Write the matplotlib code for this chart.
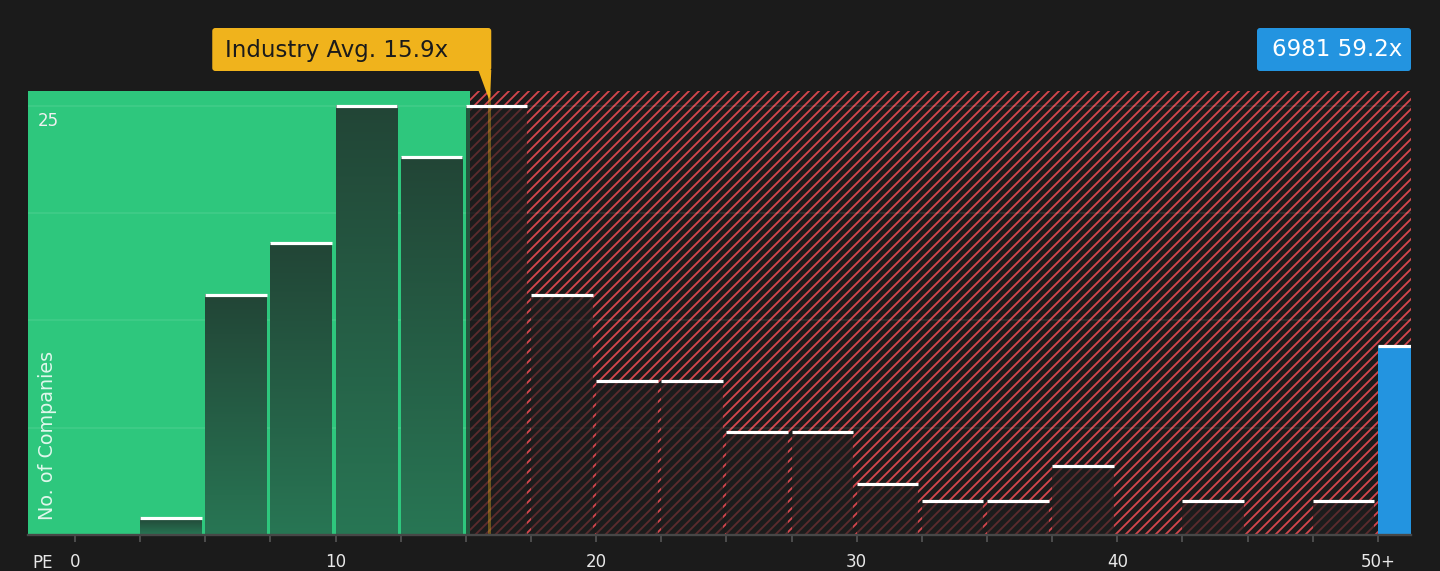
import matplotlib
matplotlib.use('Agg')
import matplotlib.pyplot as plt
import numpy as np
from matplotlib.patches import Rectangle, FancyBboxPatch, Polygon
from matplotlib.colors import LinearSegmentedColormap
import matplotlib.transforms as mtransforms

# ---------------- data ----------------
bin_left = [0, 2.5, 5, 7.5, 10, 12.5, 15, 17.5, 20, 22.5,
            25, 27.5, 30, 32.5, 35, 37.5, 40, 42.5, 45, 47.5]
counts = [0, 1, 14, 17, 25, 22, 25, 14, 9, 9,
          6, 6, 3, 2, 2, 4, 0, 2, 0, 2]
bin_width = 2.5
industry_avg = 15.9
company_label = '6981'
company_pe = 59.2
company_count = 11          # the "50+" bar
overflow_start = 50
x_tick_values = [0, 10, 20, 30, 40, 50]
x_tick_labels = ['0', '10', '20', '30', '40', '50+']
y_grid_values = [6.25, 12.5, 18.75, 25]
y_label_value = 25
y_axis_title = 'No. of Companies'
x_axis_title = 'PE'

# ---------------- style ----------------
BG = '#1b1b1b'
GREEN = '#2ec77d'
RED_HATCH = '#d4464d'
BLUE = '#2394e0'
GOLD = '#f0b31c'
W, H, DPI = 1440, 571, 120
plt.rcParams['font.family'] = ['DejaVu Sans']
plt.rcParams['hatch.linewidth'] = 1.1

fig = plt.figure(figsize=(W / DPI, H / DPI), dpi=DPI, facecolor=BG)
ax = fig.add_axes([28 / W, 1 - 535 / H, (1411 - 28) / W, (535 - 91) / H])
ax.set_facecolor(BG)
xmin, xmax = -1.8, 51.27
ymin, ymax = 0, 25.87
green_end = 15.16

# zones
ax.add_patch(Rectangle((xmin, ymin), green_end - xmin, ymax - ymin,
                       facecolor=GREEN, edgecolor='none', lw=0, zorder=0))
ax.add_patch(Rectangle((green_end, ymin), xmax - green_end, ymax - ymin,
                       facecolor=BG, edgecolor=RED_HATCH, hatch='////', lw=0, zorder=0))

# grid
for gy in y_grid_values:
    ax.axhline(gy, color='white', alpha=0.09, lw=1.0, zorder=1)

# bars
cmap = LinearSegmentedColormap.from_list('g', ['#224536', '#287654'])
grad = np.linspace(0, 1, 256).reshape(-1, 1)
bw = bin_width * 0.945
for left, c in zip(bin_left, counts):
    if c <= 0:
        continue
    if left + bw / 2 < green_end:
        ax.imshow(grad, extent=[left, left + bw, 0, c], cmap=cmap,
                  aspect='auto', origin='upper', zorder=2, interpolation='bilinear')
    else:
        ax.add_patch(Rectangle((left, 0), bw, c, facecolor='#1d1d1d',
                               alpha=0.66, edgecolor='none', zorder=2))
    ax.hlines(c, left, left + bw, color='white', lw=1.9, zorder=4)

# company bar (50+)
ax.add_patch(Rectangle((overflow_start, 0), xmax - overflow_start, company_count,
                       facecolor=BLUE, edgecolor='none', zorder=3))
ax.hlines(company_count, overflow_start, xmax, color='white', lw=1.9, zorder=4)

# industry average line
ax.axvline(industry_avg, color=GOLD, alpha=0.38, lw=1.8, zorder=3.5)

ax.set_xlim(xmin, xmax)
ax.set_ylim(ymin, ymax)

# axes styling
for s in ['top', 'left', 'right']:
    ax.spines[s].set_visible(False)
ax.spines['bottom'].set_color('#474747')
ax.spines['bottom'].set_linewidth(1.4)
ax.spines['bottom'].set_zorder(5)
ax.set_yticks([])
ax.set_xticks(x_tick_values)
ax.set_xticklabels(x_tick_labels)
ax.set_xticks(np.arange(0, 50.01, bin_width), minor=True)
ax.tick_params(axis='x', which='both', direction='out', length=4, width=1.0,
               color='#555555')
ax.tick_params(axis='x', which='major', labelsize=10, labelcolor='#e8e8e8', pad=7)

# y label "25"
ax.text(10 / (1411 - 28), y_label_value - 0.85, str(y_label_value),
        transform=mtransforms.blended_transform_factory(ax.transAxes, ax.transData),
        ha='left', va='center', fontsize=10, color='#f0f0f0', zorder=6)

# axis titles
fig.text(48 / W, 1 - 520 / H, y_axis_title, rotation=90, ha='center', va='bottom',
         fontsize=11.5, color='white', alpha=0.85)
fig.text(32 / W, 1 - 563 / H, x_axis_title, ha='left', va='center',
         fontsize=10, color='#e8e8e8')

# annotation boxes (display pixel coords)
ident = mtransforms.IdentityTransform()
xl = ax.transData.transform((industry_avg, 0))[0]
box_r = xl + 2
box_w = 279
fig.add_artist(FancyBboxPatch((box_r - box_w, 500), box_w, 43,
                              boxstyle='round,pad=0,rounding_size=3',
                              facecolor=GOLD, edgecolor='none', transform=ident))
fig.add_artist(Polygon([(xl - 11, 501), (box_r, 501), (xl + 1, 476), (xl, 471)],
                       closed=True, facecolor=GOLD, edgecolor='none', transform=ident))
fig.text((box_r - box_w + 13) / W, 521 / H, f'Industry Avg. {industry_avg}x',
         ha='left', va='center', fontsize=13.7, color='#1b1b1b')

fig.add_artist(FancyBboxPatch((1257, 500), 1411 - 1257, 43,
                              boxstyle='round,pad=0,rounding_size=3',
                              facecolor=BLUE, edgecolor='none', transform=ident))
fig.text(1337.5 / W, 521 / H, f'{company_label} {company_pe}x',
         ha='center', va='center', fontsize=13.7, color='white')

fig.savefig('out.png', dpi=DPI, facecolor=BG)
